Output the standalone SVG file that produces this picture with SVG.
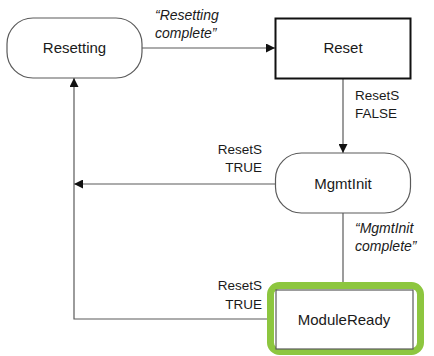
<svg xmlns="http://www.w3.org/2000/svg" width="434" height="356" viewBox="0 0 434 356">
  <style>
    .state { fill: #ffffff; stroke: #5a5a5a; stroke-width: 1.2; }
    .label { font-family: "Liberation Sans", Arial, sans-serif; font-size: 15px; fill: #1a1a1a; }
    .cond { font-family: "Liberation Sans", Arial, sans-serif; font-size: 13.5px; fill: #1a1a1a; }
    .event { font-family: "Liberation Sans", Arial, sans-serif; font-size: 14px; font-style: italic; fill: #1a1a1a; }
    .wire { fill: none; stroke: #5a5a5a; stroke-width: 1.2; }
  </style>
  <defs>
    <marker id="arrow" viewBox="0 0 10 10" refX="10" refY="5" markerWidth="9" markerHeight="9" markerUnits="userSpaceOnUse" orient="auto">
      <path d="M0,0 L10,5 L0,10 z" fill="#111111"/>
    </marker>
  </defs>
  <rect width="434" height="356" fill="#ffffff"/>

  <!-- transitions -->
  <g id="connectors">
    <line class="wire" x1="142" y1="48" x2="275" y2="48" marker-end="url(#arrow)"/>
    <line class="wire" x1="343" y1="79" x2="343" y2="153" marker-end="url(#arrow)"/>
    <line class="wire" x1="275" y1="184" x2="74" y2="184" marker-end="url(#arrow)"/>
    <polyline class="wire" points="276,319 74,319 74,78" marker-end="url(#arrow)"/>
    <line class="wire" x1="343" y1="213" x2="343" y2="283"/>
    <text class="event" x="155" y="20">“Resetting</text>
    <text class="event" x="155" y="38">complete”</text>
    <text class="cond" x="355" y="100">ResetS</text>
    <text class="cond" x="355" y="118">FALSE</text>
    <text class="cond" x="262" y="154" text-anchor="end">ResetS</text>
    <text class="cond" x="262" y="172" text-anchor="end">TRUE</text>
    <text class="event" x="355" y="233">“MgmtInit</text>
    <text class="event" x="355" y="251">complete”</text>
    <text class="cond" x="262" y="290" text-anchor="end">ResetS</text>
    <text class="cond" x="262" y="309" text-anchor="end">TRUE</text>
  </g>

  <g id="resetting">
    <rect class="state" x="7" y="18" width="135" height="60" rx="26"/>
    <text class="label" x="74.5" y="53" text-anchor="middle">Resetting</text>
  </g>

  <g id="reset">
    <rect x="275.5" y="18.5" width="135" height="60" fill="#ffffff" stroke="#111111" stroke-width="2"/>
    <text class="label" x="343" y="53" text-anchor="middle">Reset</text>
  </g>

  <g id="mgmtinit">
    <rect class="state" x="275.5" y="153" width="135" height="60" rx="26"/>
    <text class="label" x="343" y="189" text-anchor="middle">MgmtInit</text>
  </g>

  <g id="moduleready">
    <rect x="270.5" y="285.5" width="150" height="66" rx="9" fill="#ffffff" stroke="#8DC63F" stroke-width="7"/>
    <rect class="state" x="276" y="290" width="137" height="59"/>
    <text class="label" x="344" y="325" text-anchor="middle">ModuleReady</text>
  </g>
</svg>
